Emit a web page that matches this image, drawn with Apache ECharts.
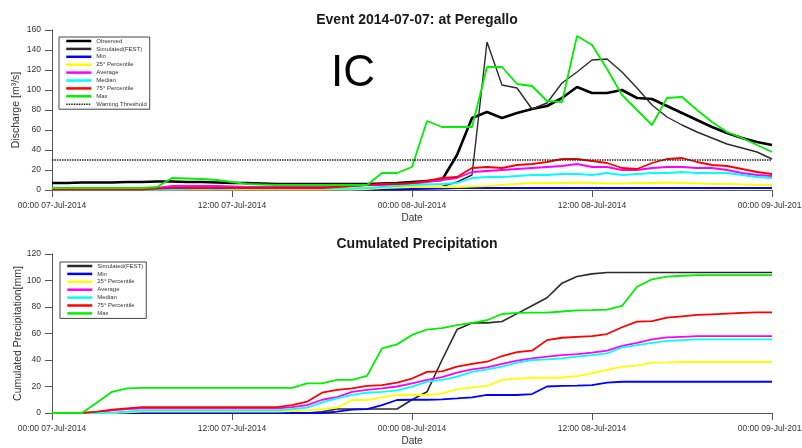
<!DOCTYPE html>
<html>
<head>
<meta charset="utf-8">
<script src="https://cdn.jsdelivr.net/npm/echarts@6/dist/echarts.min.js"></script>
<style>
  html, body { margin: 0; padding: 0; background: #ffffff; }
  #chart { width: 802px; height: 448px; }
</style>
</head>
<body>
<div id="chart"></div>
<script>
// Hourly values, 00:00 07-Jul-2014 (hour 0) to 00:00 09-Jul-2014 (hour 48)
const tickLabels = ['00:00 07-Jul-2014', '12:00 07-Jul-2014', '00:00 08-Jul-2014', '12:00 08-Jul-2014', '00:00 09-Jul-2014'];

// Discharge [m3/s]
const qObserved = [7, 7, 7.5, 7.5, 7.5, 8, 8, 8.5, 8.5, 8, 8, 7.5, 7, 7, 6.5, 6, 6, 6, 6, 6, 6, 6, 6.5, 7, 8,
  9, 10, 35, 72, 78, 72, 77, 81, 84, 92, 103, 97, 97, 100, 92, 91, 84, 77, 70, 63, 57, 52, 48, 45];
const qSimulated = [1.5, 1.5, 1.5, 1.5, 1.5, 1.5, 1.5, 1.5, 1.5, 1.5, 1.5, 1.5, 1.5, 1.5, 1.5, 1, 1, 1, 1, 1, 1, 1, 1, 1.5, 2,
  2.5, 3.5, 8, 15, 148, 105, 102, 81, 87, 107, 118, 130, 131, 118, 102, 85, 73, 65, 58, 52, 46, 42, 38, 31];
const qMin = [0.5, 0.5, 0.5, 0.5, 0.5, 0.5, 0.5, 0.5, 0.5, 0.5, 0.5, 0.5, 0.5, 0.5, 0.5, 0.5, 0.5, 0.5, 0.5, 0.5, 0.5, 0.5, 0.5, 0.5, 1,
  1.2, 1.5, 1.8, 2, 2, 2, 2, 2, 2, 2, 2, 2, 2, 2, 2, 2, 2, 2, 2, 2, 2, 2, 2, 2];
const qP25 = [0.5, 0.5, 0.5, 0.5, 0.5, 0.5, 0.5, 0.5, 0.5, 0.5, 0.5, 0.5, 0.5, 0.5, 0.5, 0.5, 0.5, 0.5, 0.5, 0.5, 0.5, 1, 2, 2.5, 3,
  3, 3, 3, 3.5, 4, 5, 6, 7, 7, 7, 7.5, 7, 6.5, 6.5, 7, 7, 7.5, 7, 6.5, 6, 6, 5.5, 5, 5];
const qAverage = [0.5, 0.5, 0.5, 0.5, 0.5, 0.5, 0.5, 2, 4, 4, 4, 4, 3.5, 3, 3, 3, 3, 3, 3, 3.5, 4, 5, 5, 5.5, 6,
  8, 10, 12, 18, 19, 20, 21, 22, 23, 24, 26, 23, 23, 20, 20, 22, 23, 23, 22, 22, 20, 17, 15, 14];
const qMedian = [0.5, 0.5, 0.5, 0.5, 0.5, 0.5, 0.5, 0.5, 0.5, 1, 1.5, 1, 1.5, 1.5, 1.5, 1.5, 1.5, 1.5, 1.5, 1.5, 1.5, 2, 3, 4, 5,
  5.5, 6, 7, 12, 13, 13, 14, 15, 15, 16, 16, 15, 17, 15, 16, 17, 17, 18, 17, 17, 17, 15, 13, 12];
const qP75 = [0.5, 0.5, 0.5, 0.5, 0.5, 0.5, 0.5, 1.5, 2, 2, 2, 2, 2, 2, 2, 2, 2, 2, 2, 3, 4, 5, 6, 6, 7,
  9, 12, 13, 22, 23, 22, 25, 26, 28, 31, 31, 29, 27, 22, 21, 27, 31, 32, 28, 25, 24, 21, 18, 16];
const qMax = [2, 2, 2, 2, 2, 2, 2, 3, 12, 11.5, 11, 10, 8, 6, 5.5, 5, 5, 5, 5, 5, 5, 5, 17, 17, 23,
  69, 63, 63, 63, 123, 123, 106, 104, 89, 88, 154, 145, 121, 95, 80, 65, 92, 93, 80, 68, 58, 52, 45, 38];
const warningThreshold = 30;

// Cumulated precipitation [mm]
const pSimulated = [0, 0, 0, 0, 0, 0, 0, 0, 0, 0, 0, 0, 0, 0, 0, 0, 0, 0, 1, 3, 3, 3, 3, 3, 10,
  16, 40, 63, 68, 68, 69, 75, 81, 87, 98, 103, 105, 106, 106, 106, 106, 106, 106, 106, 106, 106, 106, 106, 106];
const pMin = [0, 0, 0, 0, 0, 0, 0, 0, 0, 0, 0, 0, 0, 0, 0, 0, 0, 0, 0, 1, 2.5, 3, 6, 9.8, 10,
  10, 10.3, 11, 11.8, 13.6, 13.6, 13.6, 14.3, 20, 20.4, 20.6, 21, 23, 23.6, 23.6, 23.6, 23.6, 23.6, 23.6, 23.6, 23.6, 23.6, 23.6, 23.6];
const pP25 = [0, 0, 0, 0, 0, 0.5, 1, 1, 1, 1, 1, 1, 1, 1, 1, 1, 1.5, 2, 3, 4, 9.8, 9.8, 11.8, 13.6, 13.6,
  13.6, 14.8, 17.9, 19.4, 20.4, 25, 26, 26.6, 26.6, 26.8, 27.9, 30, 32.5, 35, 35.7, 38, 38.2, 38.5, 38.5, 38.5, 38.5, 38.5, 38.5, 38.5];
const pAverage = [0, 0, 0, 0.5, 2, 3, 3.5, 3.5, 3.5, 3.5, 3.5, 3.5, 3.5, 3.5, 3.5, 3.5, 4.5, 6, 10, 12, 16, 17.4, 18.6, 20, 22.4,
  25, 27, 30.4, 33, 34.5, 37, 39.5, 41.3, 42.5, 43.7, 44.5, 45.5, 47, 50.6, 53, 55.6, 57, 57.5, 58, 58, 58, 58, 58, 58];
const pMedian = [0, 0, 0, 0, 0.3, 1, 2, 2, 2, 2, 2, 2, 2, 2, 2, 2, 3, 4, 8, 11, 13.6, 15.3, 16, 17, 19.9,
  23.6, 25, 27.4, 31, 33, 35, 38, 40, 40.5, 41.3, 42.5, 43.7, 45, 49.6, 51.3, 53, 54.4, 55, 55.5, 55.5, 55.5, 55.5, 55.5, 55.5];
const pP75 = [0, 0, 0, 1, 2.5, 3.5, 4.5, 4.5, 4.5, 4.5, 4.5, 4.5, 4.5, 4.5, 4.5, 4.5, 6, 8.5, 15.3, 17.4, 18.6, 20.4, 21, 23, 26,
  31, 31.4, 35, 37, 38.7, 43, 46, 47, 55, 56.8, 57.5, 58, 59.6, 64.7, 69, 69.4, 72, 73, 74, 74.5, 75, 75.5, 76, 76];
const pMax = [0, 0, 0, 8, 16, 18.6, 19, 19, 19, 19, 19, 19, 19, 19, 19, 19, 19, 22.4, 22.4, 25, 25, 28, 48.8, 51.8, 58.9,
  63, 64, 66.4, 68, 70, 74.7, 75.5, 75.8, 75.8, 76.6, 77.5, 77.7, 78, 80.8, 95.3, 100.9, 103, 103.6, 104, 104, 104, 104, 104, 104];

const FONT = '"Liberation Sans", Arial, Helvetica, sans-serif';
const TEXT = '#333333';
const AXIS = '#555555';

const toPoints = arr => arr.map((v, i) => [i, v]);

function lineSeries(name, values, color, width, gridIdx, extra) {
  return Object.assign({
    type: 'line',
    name: name,
    xAxisIndex: gridIdx,
    yAxisIndex: gridIdx,
    data: toPoints(values),
    symbol: 'none',
    showSymbol: false,
    lineStyle: { color: color, width: width },
    itemStyle: { color: color },
    emphasis: { disabled: true }
  }, extra || {});
}

function xAxisFor(gridIdx) {
  return {
    type: 'value',
    gridIndex: gridIdx,
    min: 0, max: 48, interval: 12,
    name: 'Date',
    nameLocation: 'middle',
    nameGap: 23,
    nameMoveOverlap: false,
    nameTextStyle: { fontFamily: FONT, fontSize: 10, color: TEXT },
    axisLine: { show: true, onZero: false, lineStyle: { color: AXIS, width: 1 } },
    axisTick: { show: true, length: 7, lineStyle: { color: AXIS } },
    axisLabel: {
      fontFamily: FONT, fontSize: 8.5, color: TEXT, margin: 11,
      showMinLabel: true, showMaxLabel: true, hideOverlap: false,
      formatter: v => tickLabels[Math.round(v / 12)]
    },
    splitLine: { show: false }
  };
}

function yAxisFor(gridIdx, max, name, gap) {
  return {
    type: 'value',
    gridIndex: gridIdx,
    min: 0, max: max, interval: 20,
    name: name,
    nameLocation: 'middle',
    nameRotate: 90,
    nameGap: gap,
    nameMoveOverlap: false,
    nameTextStyle: { fontFamily: FONT, fontSize: 10.5, color: TEXT },
    axisLine: { show: true, lineStyle: { color: AXIS, width: 1 } },
    axisTick: { show: true, length: 7, lineStyle: { color: AXIS } },
    axisLabel: { fontFamily: FONT, fontSize: 8.5, color: TEXT, margin: 11 },
    splitLine: { show: false }
  };
}

const legendCommon = {
  orient: 'vertical',
  itemWidth: 25,
  itemHeight: 5,
  itemGap: 1.9,
  padding: [1, 3, 2, 6],
  borderColor: '#444',
  borderWidth: 1,
  backgroundColor: '#ffffff',
  selectedMode: false,
  itemStyle: { opacity: 0 },
  lineStyle: { width: 2.5 },
  textStyle: { fontFamily: FONT, fontSize: 6, lineHeight: 5, color: TEXT, padding: 0 }
};

const option = {
  animation: false,
  backgroundColor: '#ffffff',
  textStyle: { fontFamily: FONT },
  title: [
    {
      text: 'Event 2014-07-07: at Peregallo',
      left: 412, top: 8, textAlign: 'center',
      textStyle: { fontFamily: FONT, fontSize: 14, fontWeight: 'bold', color: '#1a1a1a' }
    },
    {
      text: 'Cumulated Precipitation',
      left: 412, top: 232, textAlign: 'center',
      textStyle: { fontFamily: FONT, fontSize: 14, fontWeight: 'bold', color: '#1a1a1a' }
    }
  ],
  graphic: [
    {
      type: 'text', left: 331, top: 52,
      style: { text: 'IC', fontFamily: FONT, fontSize: 44, fill: '#000000' }
    }
  ],
  grid: [
    { left: 52, top: 30, width: 720, height: 160, outerBoundsMode: 'none', containLabel: false },
    { left: 52, top: 254, width: 720, height: 159, outerBoundsMode: 'none', containLabel: false }
  ],
  xAxis: [xAxisFor(0), xAxisFor(1)],
  yAxis: [yAxisFor(0, 160, 'Discharge [m³/s]', 30), yAxisFor(1, 120, 'Cumulated Precipitation[mm]', 28)],
  legend: [
    Object.assign({}, legendCommon, {
      left: 59, top: 37,
      data: ['Observed', 'Simulated(FEST)', 'Min', '25° Percentile', 'Average', 'Median', '75° Percentile', 'Max',
        { name: 'Warning Threshold', lineStyle: { width: 1.5 } }]
    }),
    Object.assign({}, legendCommon, {
      left: 60, top: 262,
      data: ['Simulated(FEST)', 'Min', '25° Percentile', 'Average', 'Median', '75° Percentile', 'Max']
    })
  ],
  series: [
    lineSeries('Observed', qObserved, '#000000', 2.6, 0),
    lineSeries('Simulated(FEST)', qSimulated, '#2a2a2a', 1.4, 0),
    lineSeries('Min', qMin, '#0000ff', 1.8, 0),
    lineSeries('25° Percentile', qP25, '#ffff00', 1.8, 0),
    lineSeries('Average', qAverage, '#ff00ff', 1.8, 0),
    lineSeries('Median', qMedian, '#00ffff', 1.8, 0),
    lineSeries('75° Percentile', qP75, '#ff0000', 1.8, 0),
    lineSeries('Max', qMax, '#00ee00', 1.8, 0),
    {
      type: 'line',
      name: 'Warning Threshold',
      xAxisIndex: 0, yAxisIndex: 0,
      data: [[0, warningThreshold], [48, warningThreshold]],
      symbol: 'none',
      lineStyle: { color: '#222222', width: 1.6, type: [1.5, 1] },
      itemStyle: { color: '#222222' },
      emphasis: { disabled: true }
    },
    lineSeries('Simulated(FEST)', pSimulated, '#2a2a2a', 1.6, 1),
    lineSeries('Min', pMin, '#0000ff', 1.8, 1),
    lineSeries('25° Percentile', pP25, '#ffff00', 1.8, 1),
    lineSeries('Average', pAverage, '#ff00ff', 1.8, 1),
    lineSeries('Median', pMedian, '#00ffff', 1.8, 1),
    lineSeries('75° Percentile', pP75, '#ff0000', 1.8, 1),
    lineSeries('Max', pMax, '#00ee00', 1.8, 1)
  ]
};

const chart = echarts.init(document.getElementById('chart'), null, { renderer: 'canvas' });
chart.setOption(option);
</script>
</body>
</html>
